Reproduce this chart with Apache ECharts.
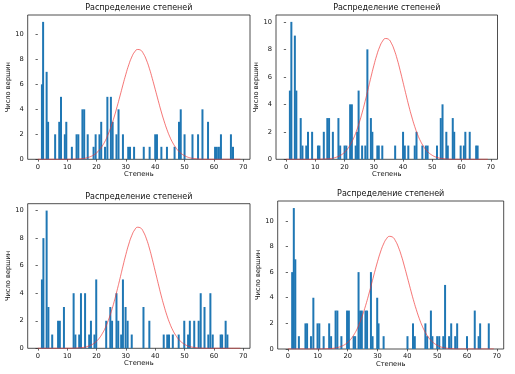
<!DOCTYPE html>
<html><head><meta charset="utf-8">
<script src="https://cdn.jsdelivr.net/npm/echarts@6/dist/echarts.min.js"></script>
<style>html,body{margin:0;padding:0;background:#fff}#c{width:515px;height:374px}</style>
</head><body><div id="c"></div><script>
const titleText = 'Распределение степеней';
const xName = 'Степень';
const yName = 'Число вершин';
const xTicks = [0, 10, 20, 30, 40, 50, 60, 70];
const yTicks = [0, 2, 4, 6, 8, 10];
const yMax = [11.55, 10.5, 10.5, 11.55];

// [degree (bin centre), count]
const bins1 = [[1.4,6],[1.8,11],[3.0,7],[3.5,3],[5.9,2],[7.3,3],[7.9,5],[9.2,2],[9.7,3],[11.6,1],[13.2,2],[13.8,2],[15.2,4],[15.8,4],[17.0,2],[19.0,1],[19.7,2],[21.0,2],[21.6,3],[22.9,1],[23.7,5],[24.9,5],[25.5,3],[26.8,2],[27.5,4],[29.0,2],[30.8,1],[31.4,1],[32.8,1],[36.1,1],[38.1,1],[40.0,2],[40.6,2],[42.1,1],[44.0,1],[46.6,1],[48.1,3],[48.7,4],[50.0,2],[52.7,2],[54.6,2],[56.1,4],[58.0,3],[60.4,1],[61.0,1],[61.7,1],[62.4,2],[65.8,2],[66.5,1]];
const bins2 = [[1.3,5],[1.8,10],[3.0,9],[3.5,5],[5.0,3],[5.6,1],[6.9,1],[7.5,2],[8.9,2],[10.9,1],[11.4,1],[12.9,2],[14.1,3],[14.7,3],[16.0,2],[17.9,3],[18.5,1],[20.0,1],[20.6,1],[21.9,4],[22.5,4],[23.8,1],[24.3,2],[24.8,5],[26.0,1],[27.1,1],[27.8,8],[29.0,3],[29.5,2],[31.2,1],[31.7,1],[32.9,1],[37.3,1],[40.0,2],[40.6,1],[41.8,1],[44.0,1],[44.6,2],[46.6,1],[47.8,1],[48.4,1],[51.6,1],[52.9,3],[53.5,4],[54.8,2],[55.3,1],[57.0,3],[57.5,2],[59.7,1],[60.8,1],[61.3,2],[62.8,2],[65.0,1],[65.5,1]];
const bins3 = [[1.4,5],[1.9,8],[3.0,10],[3.6,3],[4.9,1],[6.9,2],[7.5,2],[8.9,3],[12.2,4],[12.8,1],[14.1,1],[14.7,4],[16.1,4],[17.5,1],[18.1,2],[19.3,1],[19.9,5],[23.3,2],[24.7,3],[25.3,2],[26.8,4],[27.4,2],[28.4,1],[29.0,5],[29.9,3],[30.6,2],[32.0,1],[36.0,3],[38.0,2],[42.9,1],[44.1,1],[44.7,1],[46.0,1],[48.0,1],[49.9,2],[51.2,1],[51.8,2],[53.3,2],[54.8,2],[55.5,4],[56.8,3],[58.1,1],[58.8,4],[59.6,1],[62.3,1],[62.8,1],[64.0,2],[64.6,1]];
const bins4 = [[1.4,6],[1.95,11],[2.45,7],[3.65,1],[5.85,2],[6.4,2],[7.7,1],[8.5,4],[9.9,2],[10.5,2],[11.95,1],[13.8,2],[14.45,1],[15.95,3],[16.55,3],[17.9,1],[19.8,3],[20.4,3],[22.0,1],[22.5,1],[23.65,6],[24.2,3],[24.75,3],[25.95,3],[26.5,3],[27.8,6],[28.35,1],[29.9,4],[30.35,2],[32.05,1],[40.05,1],[41.9,2],[42.5,1],[46.05,2],[46.65,1],[47.9,3],[48.4,1],[50.0,1],[50.7,1],[52.05,1],[52.65,5],[54.0,1],[54.7,2],[56.05,1],[56.7,2],[60.0,1],[62.6,3],[63.9,1],[64.4,2],[67.3,2]];

// fitted curve at integer degrees 0..69
const curveX = [0,1,2,3,4,5,6,7,8,9,10,11,12,13,14,15,16,17,18,19,20,21,22,23,24,25,26,27,28,29,30,31,32,33,34,35,36,37,38,39,40,41,42,43,44,45,46,47,48,49,50,51,52,53,54,55,56,57,58,59,60,61,62,63,64,65,66,67,68,69];
const curveY = [0,0,0,0,0,0,0,0,0,0,0,0,0.01,0.02,0.03,0.05,0.08,0.14,0.22,0.34,0.51,0.75,1.08,1.49,2.02,2.65,3.38,4.20,5.07,5.96,6.81,7.57,8.18,8.60,8.79,8.74,8.45,7.95,7.28,6.47,5.60,4.72,3.86,3.08,2.38,1.79,1.31,0.94,0.65,0.44,0.29,0.18,0.11,0.07,0.04,0.02,0.01,0,0,0,0,0,0,0,0,0,0,0,0,0];

const allBins = [bins1, bins2, bins3, bins4];
const grids = [
  {left: 27.7, top: 15, width: 222.3, height: 144.3},
  {left: 276, top: 15, width: 221.5, height: 144.3},
  {left: 27.7, top: 203.7, width: 222.3, height: 144.6},
  {left: 277.7, top: 201, width: 226, height: 148}
];
const FONT = 'DejaVu Sans';
const chart = echarts.init(document.getElementById('c'));
const curve = curveX.map((x, i) => [x, curveY[i]]);
const option = {
  animation: false,
  backgroundColor: '#fff',
  grid: grids.map(g => Object.assign({show: true, borderColor: '#222', borderWidth: 0.8, backgroundColor: 'transparent'}, g)),
  graphic: grids.map(g => ({
    type: 'text', x: g.left + g.width / 2, y: g.top - 7, z: 10,
    style: {text: titleText, fill: '#111', font: '8px ' + FONT, textAlign: 'center', textVerticalAlign: 'middle'}
  })),
  xAxis: grids.map((g, i) => ({
    type: 'value', gridIndex: i, min: -3.45, max: 72.3,
    name: xName, nameLocation: 'middle', nameGap: 11.5,
    nameTextStyle: {fontFamily: FONT, fontSize: 6.7, color: '#111'},
    axisLine: {show: false}, splitLine: {show: false},
    axisTick: {show: true, length: 2.3, customValues: xTicks, lineStyle: {color: '#222', width: 0.7}},
    axisLabel: {customValues: xTicks, margin: 4, fontFamily: FONT, fontSize: 6.7, color: '#111'}
  })),
  yAxis: grids.map((g, i) => ({
    type: 'value', gridIndex: i, min: 0, max: yMax[i],
    name: yName, nameLocation: 'middle', nameGap: 15.5,
    nameTextStyle: {fontFamily: FONT, fontSize: 6.7, color: '#111'},
    axisLine: {show: false}, splitLine: {show: false},
    axisTick: {show: true, length: 2.3, customValues: yTicks, lineStyle: {color: '#222', width: 0.7}},
    axisLabel: {customValues: yTicks, margin: 4, fontFamily: FONT, fontSize: 6.7, color: '#111'}
  })),
  series: [].concat(...allBins.map((b, i) => [
    {type: 'bar', xAxisIndex: i, yAxisIndex: i, data: b, barWidth: 2, itemStyle: {color: '#1f77b4'}, z: 2},
    {type: 'line', xAxisIndex: i, yAxisIndex: i, data: curve, smooth: true, showSymbol: false, symbol: 'none',
     lineStyle: {color: 'rgba(240,50,50,0.75)', width: 0.9}, z: 3}
  ]))
};
chart.setOption(option);
</script></body></html>
